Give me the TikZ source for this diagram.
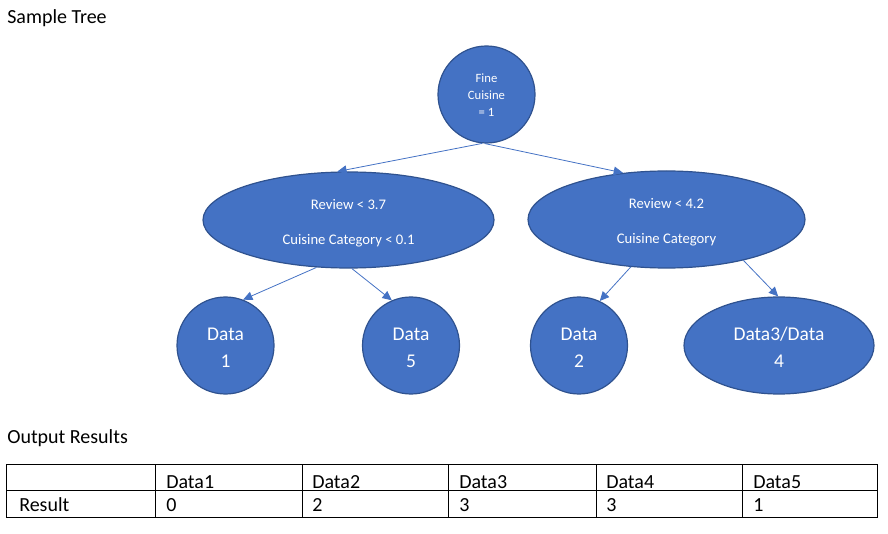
\documentclass[tikz,border=0pt]{standalone}
\usepackage{fontspec}
\setmainfont{Carlito}
\usetikzlibrary{shapes.geometric,arrows.meta}
\definecolor{fillblue}{HTML}{4472C4}
\definecolor{edgeblue}{HTML}{2F528F}
\tikzset{
  treenode/.style={fill=fillblue, draw=edgeblue, line width=0.9pt, inner sep=0pt},
  roundnode/.style={treenode, circle, minimum size=72.75pt},
  ovalnode/.style={treenode, ellipse},
  nodetext/.style={text=white, align=center, inner sep=0pt},
  link/.style={draw=fillblue, line width=0.6pt, -{Triangle[length=7pt,width=6.5pt]}},
  plaintext/.style={inner sep=0pt, anchor=base west, font=\fontsize{15}{18}\selectfont},
  grid/.style={draw=black, line width=0.75pt}
}
\begin{document}
\begin{tikzpicture}[x=0.75pt,y=-0.75pt]
\useasboundingbox (0,0) rectangle (888,534);

\node[plaintext] (title) at (7,24) {Sample Tree};

% tree nodes
\node[roundnode] (root) at (486.5,94.5) {};
\node[ovalnode, minimum width=218.25pt, minimum height=72pt] (L) at (348.5,220) {};
\node[ovalnode, minimum width=207.75pt, minimum height=72.75pt] (R) at (666.5,219.5) {};
\node[roundnode] (d1) at (225.5,345.5) {};
\node[roundnode] (d5) at (411,345.5) {};
\node[roundnode] (d2) at (579,345.5) {};
\node[ovalnode, minimum width=142.5pt, minimum height=72.75pt] (d34) at (779,345.5) {};

% node texts
\node[nodetext, font=\fontsize{9.5}{12.75}\selectfont] (roott) at ([yshift=-0.8pt]root.center) {Fine\\Cuisine\\= 1};
\node[nodetext, font=\fontsize{11}{26.25}\selectfont] (Lt) at ([yshift=-2.2pt]L.center) {Review < 3.7\\Cuisine Category < 0.1};
\node[nodetext, font=\fontsize{11}{26.25}\selectfont] (Rt) at ([yshift=-2.2pt]R.center) {Review < 4.2\\Cuisine Category};
\node[nodetext, font=\fontsize{14.6}{20.25}\selectfont] (d1t) at ([yshift=-1.5pt]d1.center) {Data\\1};
\node[nodetext, font=\fontsize{14.6}{20.25}\selectfont] (d5t) at ([yshift=-1.5pt]d5.center) {Data\\5};
\node[nodetext, font=\fontsize{14.6}{20.25}\selectfont] (d2t) at ([yshift=-1.5pt]d2.center) {Data\\2};
\node[nodetext, font=\fontsize{14.6}{20.25}\selectfont] (d34t) at ([yshift=-1.5pt]d34.center) {Data3/Data\\4};

% connectors
\draw[link] (root.265) -- (L.103);
\draw[link] (root.268) -- (R.133);
\draw[link] (L.236) -- (d1.69);
\draw[link] (L.274) -- (d5.113);
\draw[link] (R.233) -- (d2.65);
\draw[link] (R.-28) -- (d34.91);

% table
\node[plaintext] (outtitle) at (7,443) {Output Results};
\coordinate (tl) at (6,464);
\coordinate (br) at (877,517);
\draw[grid] (tl) rectangle (br);
\draw[grid] (6,490.5) -- (877,490.5);
\foreach \cx in {155,302,448,596,742} {\draw[grid] (\cx,464) -- (\cx,517);}

\node[plaintext] (h1) at (166,488) {Data1};
\node[plaintext] (h2) at (312,488) {Data2};
\node[plaintext] (h3) at (459,488) {Data3};
\node[plaintext] (h4) at (606,488) {Data4};
\node[plaintext] (h5) at (753,488) {Data5};
\node[plaintext] (rl) at (19,511) {Result};
\node[plaintext] (v1) at (166,511) {0};
\node[plaintext] (v2) at (312,511) {2};
\node[plaintext] (v3) at (459,511) {3};
\node[plaintext] (v4) at (606,511) {3};
\node[plaintext] (v5) at (753,511) {1};
\end{tikzpicture}
\end{document}
